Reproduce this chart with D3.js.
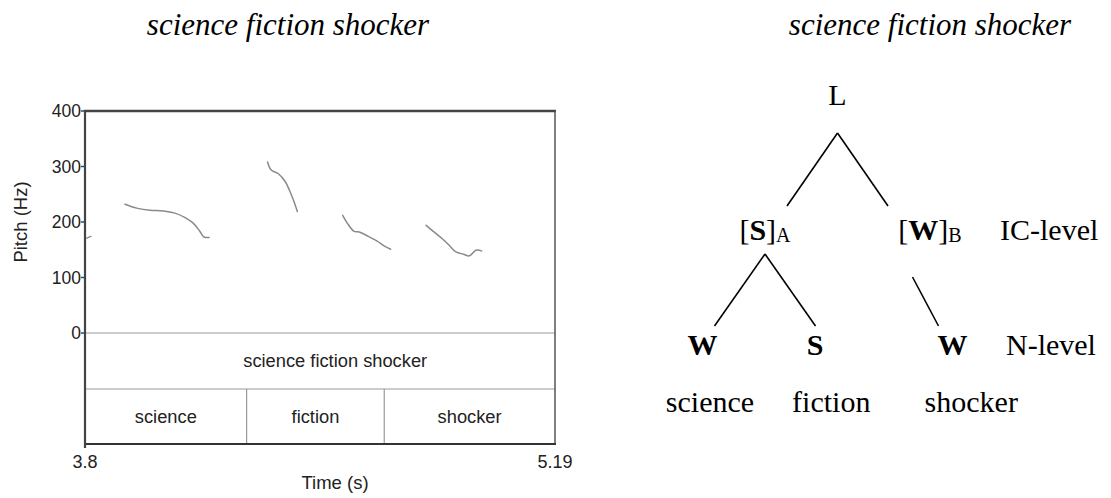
<!DOCTYPE html>
<html>
<head>
<meta charset="utf-8">
<script src="https://cdn.jsdelivr.net/npm/d3@7"></script>
<style>
  body { margin: 0; background: #fff; }
  svg { display: block; }
</style>
</head>
<body>
<svg id="chart" width="1111" height="498"></svg>
<script>
// ---- data ----
const titleText = "science fiction shocker";
const timeDomain = [3.8, 5.19];
const pitchDomain = [0, 400];
const yTicks = [0, 100, 200, 300, 400];
const xTickLabels = ["3.8", "5.19"];

// pitch track pieces: [time (s), pitch (Hz)]
const pitchStart = [[3.805, 171], [3.817, 174]];
const pitchScience = [[3.918, 232], [3.953, 225], [3.992, 221], [4.032, 220], [4.066, 216], [4.096, 208], [4.12, 198], [4.14, 183], [4.152, 173], [4.167, 172]];
const pitchFiction = [[4.34, 308], [4.35, 294], [4.372, 287], [4.392, 273], [4.404, 258], [4.416, 240], [4.428, 219]];
const pitchFictionTail = [[4.562, 212], [4.579, 195], [4.596, 183], [4.611, 182], [4.638, 174], [4.663, 166], [4.687, 156], [4.704, 151]];
const pitchShocker = [[4.809, 194], [4.83, 183], [4.86, 168], [4.88, 156], [4.897, 146], [4.919, 142], [4.937, 139], [4.956, 149], [4.973, 148]];
const pitchPieces = [pitchStart, pitchScience, pitchFiction, pitchFictionTail, pitchShocker];

const phraseLabel = "science fiction shocker";
const phraseTime = 4.54;
const wordLabels = ["science", "fiction", "shocker"];
const wordBounds = [3.8, 4.278, 4.685, 5.19];

// prosodic tree: label parts are [text, style] (b = bold, s = subscript)
const treeNodes = [
  { id: "L", level: 0, col: 1.02, parts: [["L", ""]] },
  { id: "SA", level: 1, col: 0.44, parent: "L", parts: [["[", ""], ["S", "b"], ["]", ""], ["A", "s"]] },
  { id: "WB", level: 1, col: 1.76, parent: "L", parts: [["[", ""], ["W", "b"], ["]", ""], ["B", "s"]] },
  { id: "W1", level: 2, col: -0.06, parent: "SA", parts: [["W", "b"]] },
  { id: "S1", level: 2, col: 0.84, parent: "SA", parts: [["S", "b"]] },
  { id: "W2", level: 2, col: 1.94, parent: "WB", parts: [["W", "b"]] },
  { id: "w1", level: 3, col: 0, parts: [["science", ""]] },
  { id: "w2", level: 3, col: 0.97, parts: [["fiction", ""]] },
  { id: "w3", level: 3, col: 2.09, parts: [["shocker", ""]] }
];
const levelNames = [null, "IC-level", "N-level", null];

// ---- layout ----
const svg = d3.select("#chart");
const sans = "'Liberation Sans', Arial, Helvetica, sans-serif";
const serif = "'Liberation Serif', 'Times New Roman', serif";

const x = d3.scaleLinear().domain(timeDomain).range([85, 555]);
const y = d3.scaleLinear().domain(pitchDomain).range([333, 111]);
const tierMid = 389;
const bottomY = 444;

// titles
[288, 930].forEach((cx) => {
  svg.append("text")
    .attr("x", cx).attr("y", 35)
    .attr("text-anchor", "middle")
    .style("font-family", serif).style("font-style", "italic").style("font-size", "31px")
    .text(titleText);
});

// ---- pitch plot ----
const plot = svg.append("g");

// tier lines and boundaries
plot.append("line").attr("x1", x(timeDomain[0])).attr("x2", x(timeDomain[1]))
  .attr("y1", y(0)).attr("y2", y(0)).attr("stroke", "#999").attr("stroke-width", 1.2);
plot.append("line").attr("x1", x(timeDomain[0])).attr("x2", x(timeDomain[1]))
  .attr("y1", tierMid).attr("y2", tierMid).attr("stroke", "#999").attr("stroke-width", 1.2);
plot.selectAll(".bound")
  .data(wordBounds.slice(1, -1))
  .join("line")
  .attr("x1", (d) => x(d)).attr("x2", (d) => x(d))
  .attr("y1", tierMid).attr("y2", bottomY)
  .attr("stroke", "#999").attr("stroke-width", 1.2);

// frame
plot.append("line").attr("x1", x(timeDomain[0]) - 1).attr("x2", x(timeDomain[1]) + 1)
  .attr("y1", y(400)).attr("y2", y(400)).attr("stroke", "#444").attr("stroke-width", 2.4);
plot.append("line").attr("x1", x(timeDomain[1])).attr("x2", x(timeDomain[1]))
  .attr("y1", y(400)).attr("y2", bottomY).attr("stroke", "#555").attr("stroke-width", 1.5);
plot.append("line").attr("x1", x(timeDomain[0])).attr("x2", x(timeDomain[1]) + 1)
  .attr("y1", bottomY).attr("y2", bottomY).attr("stroke", "#333").attr("stroke-width", 2);
plot.append("line").attr("x1", x(timeDomain[0])).attr("x2", x(timeDomain[0]))
  .attr("y1", y(400) - 1).attr("y2", bottomY + 4).attr("stroke", "#444").attr("stroke-width", 2.2);

// y ticks
const yt = plot.selectAll(".ytick").data(yTicks).join("g");
yt.append("line").attr("x1", 81).attr("x2", 85).attr("y1", (d) => y(d)).attr("y2", (d) => y(d))
  .attr("stroke", "#444").attr("stroke-width", 1.5);
yt.append("text").attr("x", 81).attr("y", (d) => y(d) + 6)
  .attr("text-anchor", "end")
  .style("font-family", sans).style("font-size", "17.5px").attr("fill", "#222")
  .text((d) => d);

// x labels
plot.selectAll(".xtick").data(timeDomain).join("text")
  .attr("x", (d) => x(d)).attr("y", 468)
  .attr("text-anchor", "middle")
  .style("font-family", sans).style("font-size", "18px").attr("fill", "#222")
  .text((d, i) => xTickLabels[i]);

plot.append("text").attr("x", x((timeDomain[0] + timeDomain[1]) / 2) + 15).attr("y", 489)
  .attr("text-anchor", "middle")
  .style("font-family", sans).style("font-size", "18.5px").attr("fill", "#222")
  .text("Time (s)");

plot.append("text").attr("transform", `translate(27,${y(200)}) rotate(-90)`)
  .attr("text-anchor", "middle")
  .style("font-family", sans).style("font-size", "18.5px").attr("fill", "#222")
  .text("Pitch (Hz)");

// pitch contours
const line = d3.line().x((d) => x(d[0])).y((d) => y(d[1])).curve(d3.curveCatmullRom);
plot.selectAll(".pitch").data(pitchPieces).join("path")
  .attr("d", line).attr("fill", "none")
  .attr("stroke", "#8a8a8a").attr("stroke-width", 1.5).attr("stroke-linecap", "round");

// tiers text
plot.append("text").attr("x", x(phraseTime)).attr("y", 367)
  .attr("text-anchor", "middle")
  .style("font-family", sans).style("font-size", "18.3px").attr("fill", "#222")
  .text(phraseLabel);

plot.selectAll(".word").data(wordLabels).join("text")
  .attr("x", (d, i) => x((wordBounds[i] + wordBounds[i + 1]) / 2)).attr("y", 423)
  .attr("text-anchor", "middle")
  .style("font-family", sans).style("font-size", "18.3px").attr("fill", "#222")
  .text((d) => d);

// ---- tree ----
const colX = d3.scaleLinear().domain([0, 1]).range([710, 835]);
const levelBase = [105, 240, 355, 412];
const levelTop = [null, 206, 326, null];
const levelBottom = [133, 254, null, null];
const byId = new Map(treeNodes.map((d) => [d.id, d]));
const tree = svg.append("g");

// edges
treeNodes.filter((d) => d.parent).forEach((d) => {
  const p = byId.get(d.parent);
  const siblings = treeNodes.filter((n) => n.parent === d.parent);
  let x1, y1, x2, y2;
  if (siblings.length > 1) {
    const dir = colX(d.col) < colX(p.col) ? -1 : 1;
    x1 = colX(p.col);
    y1 = levelBottom[p.level];
    x2 = x1 + dir * 50.5;
    y2 = levelTop[d.level];
  } else {
    x2 = colX(d.col) - 14;
    y2 = levelTop[d.level];
    x1 = x2 - 26;
    y1 = levelBottom[p.level] + 23;
  }
  tree.append("line").attr("x1", x1).attr("y1", y1).attr("x2", x2).attr("y2", y2)
    .attr("stroke", "#000").attr("stroke-width", 1.6);
});

// node labels
treeNodes.forEach((d) => {
  const t = tree.append("text")
    .attr("x", colX(d.col)).attr("y", levelBase[d.level])
    .attr("text-anchor", "middle")
    .style("font-family", serif).style("font-size", "30px").attr("fill", "#000");
  d.parts.forEach(([txt, st]) => {
    const s = t.append("tspan").text(txt);
    if (st === "b") s.style("font-weight", "bold");
    if (st === "s") s.style("font-size", "20px").attr("dy", 2);
  });
});

// level names
levelNames.forEach((name, i) => {
  if (!name) return;
  tree.append("text").attr("x", i === 1 ? 1000 : 1006).attr("y", levelBase[i])
    .style("font-family", serif).style("font-size", "30px").attr("fill", "#000")
    .text(name);
});
</script>
</body>
</html>
